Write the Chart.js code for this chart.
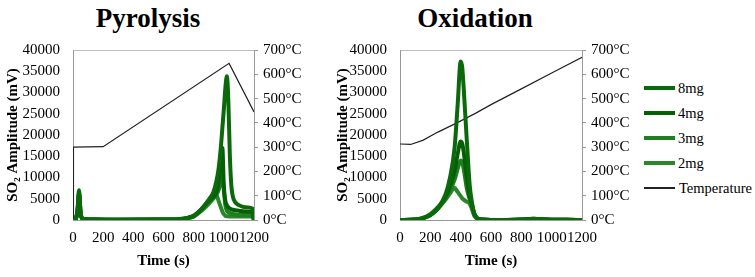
<!DOCTYPE html>
<html>
<head>
<meta charset="utf-8">
<script src="https://cdn.jsdelivr.net/npm/chart.js@4"></script>
<style>
  body { margin: 0; width: 755px; height: 277px; background: #fff; position: relative; overflow: hidden;
         font-family: "Liberation Serif", serif; color: #000; }
  .ttl { position: absolute; top: 3px; width: 200px; text-align: center; font-size: 27px; font-weight: bold; line-height: 31px; }
  .box { position: absolute; top: 0; height: 277px; }
  .leg { position: absolute; left: 644px; font-size: 14.5px; }
  .row { position: absolute; left: 0; height: 20px; white-space: nowrap; }
  .sw { position: absolute; left: 0; top: 10px; width: 31px; }
  .lbl { position: absolute; top: 1px; line-height: 18px; }
</style>
</head>
<body>
<div class="ttl" style="left:48px">Pyrolysis</div>
<div class="ttl" style="left:375px">Oxidation</div>
<div class="box" style="left:0;width:330px"><canvas id="pyro" width="330" height="277"></canvas></div>
<div class="box" style="left:330px;width:310px"><canvas id="oxi" width="310" height="277"></canvas></div>
<div class="leg" id="legend"></div>
<script>
// Pyrolysis (time in s, SO2 in mV)
const pyroTime = [0, 10, 20, 30, 40, 50, 60, 80, 150, 300, 600, 700, 760, 800, 850, 900, 930, 950, 965, 980, 990, 1000, 1010, 1020, 1030, 1040, 1050, 1060, 1075, 1100, 1140, 1190, 1200];
const pyro8mg = [0, 100, 500, 2500, 7000, 2000, 500, 200, 100, 50, 100, 200, 500, 1000, 2500, 4800, 6500, 9000, 12000, 17000, 21500, 26000, 31000, 33800, 28000, 15000, 8000, 5500, 4200, 3500, 3000, 2700, 0];
const pyro4mg = [0, 100, 400, 2200, 6500, 1800, 400, 200, 100, 50, 100, 200, 500, 1000, 2500, 4500, 5500, 6300, 9000, 15500, 17000, 8000, 4500, 3500, 3000, 2700, 2500, 2400, 2300, 2200, 2000, 1800, 0];
const pyro3mg = [0, 100, 400, 2000, 6000, 1600, 400, 150, 100, 50, 100, 200, 450, 900, 2300, 4200, 5200, 6000, 7000, 9000, 10500, 7000, 3500, 2200, 1800, 1600, 1500, 1400, 1300, 1200, 1150, 1100, 0];
const pyro2mg = [0, 100, 300, 1800, 5500, 1500, 300, 150, 100, 50, 100, 200, 400, 800, 2100, 3800, 5000, 5900, 4500, 3000, 2000, 1400, 1000, 900, 850, 800, 800, 800, 800, 800, 800, 800, 0];
const pyroTempTime = [0, 3, 200, 1035, 1200];
const pyroTemp = [0, 300, 302, 645, 445];

// Oxidation
const oxiTime = [0, 100, 150, 200, 250, 300, 330, 360, 380, 400, 410, 420, 440, 460, 475, 490, 510, 540, 600, 700, 800, 850, 880, 920, 1000, 1100, 1200];
const oxi8mg = [0, 100, 400, 1200, 2800, 6000, 10000, 17000, 27000, 37300, 36000, 31000, 19000, 8000, 4000, 1500, 400, 100, 0, 0, 100, 250, 300, 200, 50, 50, 0];
const oxi4mg = [0, 100, 400, 1200, 2800, 5500, 8000, 11500, 15500, 18500, 18000, 16000, 10000, 5500, 3500, 1500, 400, 100, 0, 0, 100, 250, 300, 200, 50, 50, 0];
const oxi3mg = [0, 100, 400, 1100, 2600, 5000, 7000, 9500, 12000, 14000, 13500, 12000, 7500, 4800, 3000, 1200, 300, 100, 0, 0, 100, 200, 250, 150, 50, 50, 0];
const oxi2mg = [0, 100, 500, 1400, 3000, 4800, 6300, 7600, 6600, 5600, 5100, 4800, 4300, 3800, 2500, 1000, 300, 100, 0, 0, 50, 150, 200, 100, 50, 50, 0];
const oxiTempTime = [0, 70, 150, 250, 375, 500, 600, 800, 1000, 1200];
const oxiTemp = [313, 311, 328, 362, 400, 440, 475, 540, 605, 670];

const seriesNames = ['8mg', '4mg', '3mg', '2mg'];
const greens = ['#0b690b', '#056005', '#1f7f1f', '#2a862a'];
const tempColor = '#222';

const serif = 'Liberation Serif, Times New Roman, serif';
const tickFont = { family: serif, size: 15, weight: 'normal' };
const titleFont = { family: serif, size: 15, weight: 'bold' };

const pts = (xs, ys) => xs.map((x, i) => ({ x: x, y: ys[i] }));

function makeChart(id, time, series, tTime, temp, leftW, rightW) {
  const datasets = series.map((vals, i) => ({
    label: seriesNames[i],
    data: pts(time, vals),
    borderColor: greens[i],
    borderWidth: 4,
    pointRadius: 0,
    cubicInterpolationMode: 'monotone',
    yAxisID: 'y'
  }));
  datasets.push({
    label: 'Temperature',
    data: pts(tTime, temp),
    borderColor: tempColor,
    borderWidth: 1.2,
    pointRadius: 0,
    tension: 0,
    yAxisID: 'y2'
  });
  return new Chart(document.getElementById(id).getContext('2d'), {
    type: 'line',
    data: { datasets },
    options: {
      responsive: false,
      animation: false,
      layout: { padding: { top: 50 } },
      plugins: { legend: { display: false }, tooltip: { enabled: false } },
      scales: {
        x: {
          type: 'linear', min: 0, max: 1200,
          ticks: { stepSize: 200, autoSkip: false, maxRotation: 0, padding: 9, color: '#000', font: tickFont, callback: v => String(v) },
          grid: { display: false, drawTicks: false },
          border: { color: '#999' },
          title: { display: true, text: 'Time (s)', color: '#000', font: titleFont, padding: { top: 0, bottom: 7 } },
          afterFit: s => { s.height = 57; }
        },
        xTop: {
          type: 'linear', position: 'top',
          ticks: { display: false },
          grid: { display: false, drawTicks: false },
          border: { color: '#bbb' },
          afterFit: s => { s.height = 0; }
        },
        y: {
          min: 0, max: 40000,
          ticks: { stepSize: 5000, padding: 13, color: '#000', font: tickFont, callback: v => String(v) },
          grid: { display: false, drawTicks: false },
          border: { color: '#999' },
          title: { display: true, text: 'SO₂ Amplitude (mV)', color: '#000', font: titleFont, padding: { top: 4, bottom: 0 } },
          afterFit: s => { s.width = leftW; }
        },
        y2: {
          position: 'right', min: 0, max: 700,
          ticks: { stepSize: 100, padding: 5, color: '#000', font: tickFont, callback: v => v + '°C' },
          grid: { display: true, drawOnChartArea: false, drawTicks: true, tickLength: 4, color: '#999' },
          border: { color: '#999' },
          afterFit: s => { s.width = rightW; }
        }
      }
    }
  });
}

makeChart('pyro', pyroTime, [pyro8mg, pyro4mg, pyro3mg, pyro2mg], pyroTempTime, pyroTemp, 73, 76);
makeChart('oxi', oxiTime, [oxi8mg, oxi4mg, oxi3mg, oxi2mg], oxiTempTime, oxiTemp, 70, 58);

// legend
const legend = document.getElementById('legend');
const legendItems = seriesNames.map((n, i) => ({ name: n, color: greens[i], w: 4, gap: 34 }))
  .concat([{ name: 'Temperature', color: tempColor, w: 1.2, gap: 35 }]);
legendItems.forEach((it, i) => {
  const row = document.createElement('div');
  row.className = 'row';
  row.style.top = (78 + i * 25) + 'px';
  row.innerHTML = '<div class="sw" style="height:' + it.w + 'px;margin-top:' + (-it.w / 2) + 'px;background:' + it.color + '"></div>' +
    '<div class="lbl" style="left:' + it.gap + 'px">' + it.name + '</div>';
  legend.appendChild(row);
});
</script>
</body>
</html>
